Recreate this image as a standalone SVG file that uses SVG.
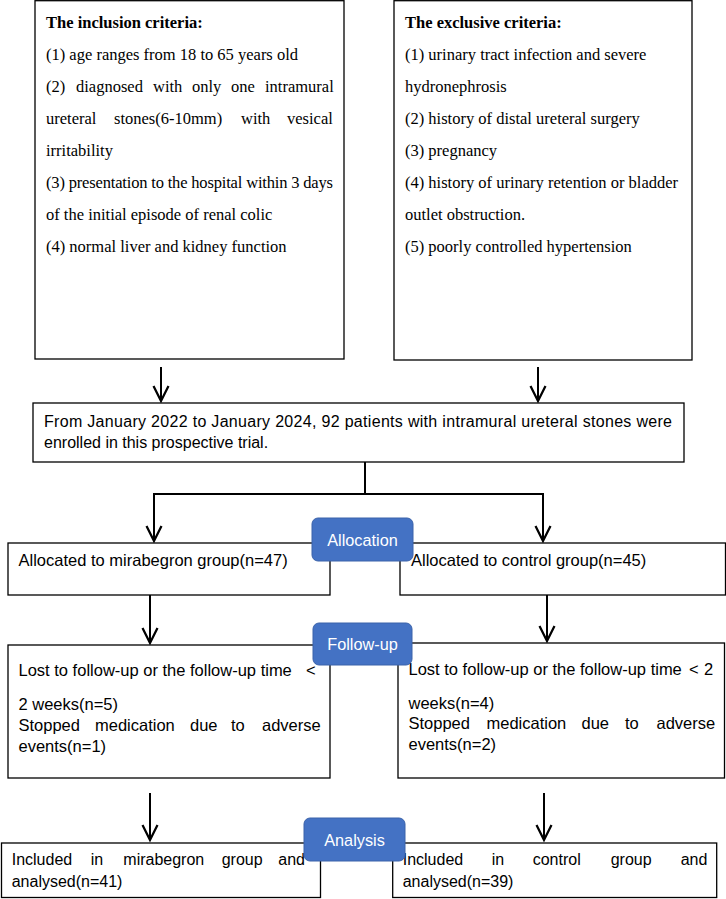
<svg xmlns="http://www.w3.org/2000/svg" width="726" height="899" viewBox="0 0 726 899">
<style>
.box{fill:#fff;stroke:#000;stroke-width:1.3}
.serif{font-family:"Liberation Serif","Times New Roman",serif;font-size:16.5px;fill:#000}
.sans{font-family:"Liberation Sans",Arial,sans-serif;font-size:16px;fill:#000}
.big{font-size:16.5px}
.badge{fill:#4472C4;stroke:#3a62aa;stroke-width:1}
.btxt{font-family:"Liberation Sans",Arial,sans-serif;font-size:16.3px;fill:#fff;text-anchor:middle}
.conn{stroke:#000;stroke-width:2;fill:none}
</style>
<defs>
<marker id="arr" markerUnits="userSpaceOnUse" markerWidth="20" markerHeight="20" viewBox="-14 -8 16 16" refX="0" refY="0" orient="auto" overflow="visible">
<path d="M-12,-6 L0,0 L-12,6" fill="none" stroke="#000" stroke-width="1.8"/>
</marker>
</defs>
<rect width="726" height="899" fill="#fff"/>

<g id="inclusion">
<rect class="box" x="35" y="0.7" width="309" height="358.3"/>
<text class="serif" x="46" y="28" font-weight="bold">The inclusion criteria:</text>
<text class="serif" x="46" y="60">(1) age ranges from 18 to 65 years old</text>
<text class="serif" y="92"><tspan x="46">(2)</tspan><tspan x="76">diagnosed</tspan><tspan x="153">with</tspan><tspan x="192">only</tspan><tspan x="231">one</tspan><tspan x="265">intramural</tspan></text>
<text class="serif" y="124"><tspan x="46">ureteral</tspan><tspan x="114">stones(6-10mm)</tspan><tspan x="241">with</tspan><tspan x="287">vesical</tspan></text>
<text class="serif" x="46" y="156">irritability</text>
<text class="serif" x="46" y="188" textLength="287" lengthAdjust="spacing">(3) presentation to the hospital within 3 days</text>
<text class="serif" x="46" y="220">of the initial episode of renal colic</text>
<text class="serif" x="46" y="252">(4) normal liver and kidney function</text>
</g>

<g id="exclusion">
<rect class="box" x="394" y="0.7" width="298" height="359.3"/>
<text class="serif" x="405" y="28" font-weight="bold">The exclusive criteria:</text>
<text class="serif" x="405" y="60">(1) urinary tract infection and severe</text>
<text class="serif" x="405" y="92">hydronephrosis</text>
<text class="serif" x="405" y="124">(2) history of distal ureteral surgery</text>
<text class="serif" x="405" y="156">(3) pregnancy</text>
<text class="serif" x="405" y="188">(4) history of urinary retention or bladder</text>
<text class="serif" x="405" y="220">outlet obstruction.</text>
<text class="serif" x="405" y="252">(5) poorly controlled hypertension</text>
</g>

<g id="connectors">
<line class="conn" x1="161" y1="367" x2="161" y2="401" marker-end="url(#arr)"/>
<line class="conn" x1="538" y1="367" x2="538" y2="401" marker-end="url(#arr)"/>
<line class="conn" x1="365" y1="462" x2="365" y2="494"/>
<line class="conn" x1="153" y1="494" x2="544" y2="494"/>
<line class="conn" x1="154" y1="494" x2="154" y2="541" marker-end="url(#arr)"/>
<line class="conn" x1="543" y1="494" x2="543" y2="541" marker-end="url(#arr)"/>
<line class="conn" x1="150" y1="595" x2="150" y2="643" marker-end="url(#arr)"/>
<line class="conn" x1="547" y1="595" x2="547" y2="641" marker-end="url(#arr)"/>
<line class="conn" x1="150" y1="793" x2="150" y2="840" marker-end="url(#arr)"/>
<line class="conn" x1="544" y1="793" x2="544" y2="840" marker-end="url(#arr)"/>
</g>

<g id="enrolment">
<rect class="box" x="33" y="403" width="651" height="59"/>
<text class="sans" x="44" y="427" textLength="628" lengthAdjust="spacing">From January 2022 to January 2024, 92 patients with intramural ureteral stones were</text>
<text class="sans" x="44" y="448">enrolled in this prospective trial.</text>
</g>

<g id="alloc-left">
<rect class="box" x="8" y="543" width="322" height="52"/>
<text class="sans big" x="18.5" y="566">Allocated to mirabegron group(n=47)</text>
</g>
<g id="alloc-right">
<rect class="box" x="400" y="543" width="325.5" height="52"/>
<text class="sans big" x="411" y="566">Allocated to control group(n=45)</text>
</g>

<g id="follow-left">
<rect class="box" x="8" y="645" width="322" height="133"/>
<text class="sans big" y="676"><tspan x="18.5">Lost to follow-up or the follow-up time</tspan><tspan x="306">&lt;</tspan></text>
<text class="sans big" x="18.5" y="710">2 weeks(n=5)</text>
<text class="sans big" y="731"><tspan x="18.5">Stopped</tspan><tspan x="95">medication</tspan><tspan x="190">due</tspan><tspan x="231">to</tspan><tspan x="262">adverse</tspan></text>
<text class="sans big" x="18.5" y="752">events(n=1)</text>
</g>
<g id="follow-right">
<rect class="box" x="398" y="643" width="326.5" height="135"/>
<text class="sans big" y="675"><tspan x="408.5">Lost to follow-up or the follow-up time</tspan><tspan x="689">&lt;</tspan><tspan x="704">2</tspan></text>
<text class="sans big" x="408.5" y="709">weeks(n=4)</text>
<text class="sans big" y="729"><tspan x="408.5">Stopped</tspan><tspan x="486.5">medication</tspan><tspan x="581.5">due</tspan><tspan x="625">to</tspan><tspan x="656.5">adverse</tspan></text>
<text class="sans big" x="408.5" y="750">events(n=2)</text>
</g>

<g id="included-left">
<rect class="box" x="1.5" y="843" width="319" height="54.5"/>
<text class="sans" y="865"><tspan x="11.7">Included</tspan><tspan x="90.7">in</tspan><tspan x="123.3">mirabegron</tspan><tspan x="221.7">group</tspan><tspan x="278.3">and</tspan></text>
<text class="sans" x="11.7" y="887">analysed(n=41)</text>
</g>
<g id="included-right">
<rect class="box" x="392.7" y="843" width="324" height="54.5"/>
<text class="sans" y="865"><tspan x="402.7">Included</tspan><tspan x="491.7">in</tspan><tspan x="532.7">control</tspan><tspan x="610.7">group</tspan><tspan x="680.7">and</tspan></text>
<text class="sans" x="402.7" y="887">analysed(n=39)</text>
</g>

<g id="badge-allocation">
<rect class="badge" x="312" y="518" width="101" height="43" rx="6"/>
<text class="btxt" x="362.5" y="546">Allocation</text>
</g>
<g id="badge-followup">
<rect class="badge" x="313" y="623" width="99" height="42" rx="6"/>
<text class="btxt" x="362.5" y="650">Follow-up</text>
</g>
<g id="badge-analysis">
<rect class="badge" x="304" y="818" width="101" height="43" rx="6"/>
<text class="btxt" x="354.5" y="846">Analysis</text>
</g>
</svg>
